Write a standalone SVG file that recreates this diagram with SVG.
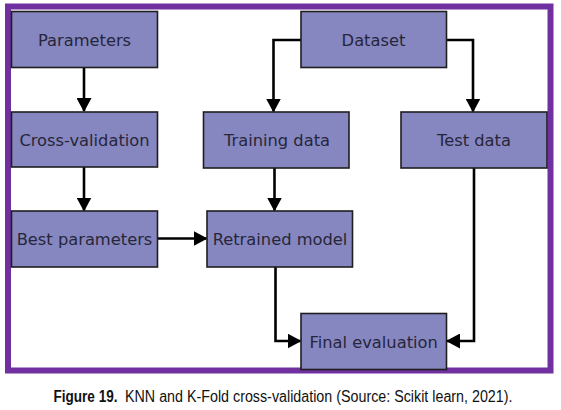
<svg xmlns="http://www.w3.org/2000/svg" width="561" height="410" viewBox="0 0 561 410">
<style>
.node rect{fill:#8686c0;stroke:#1e1e1e;stroke-width:1.6}
.node text{font-family:"DejaVu Sans",sans-serif;font-size:16.3px;fill:#26263a;text-anchor:middle}
.conn path{fill:none;stroke:#000;stroke-width:2.6;marker-end:url(#ah)}
.cap{font-family:"Liberation Sans",Arial,sans-serif;font-size:16px;fill:#111}
</style>
<defs>
<marker id="ah" viewBox="0 0 14 15" refX="13" refY="7.5" markerWidth="14" markerHeight="15" markerUnits="userSpaceOnUse" orient="auto">
<path d="M0,0 L14,7.5 L0,15 z" fill="#000"/>
</marker>
</defs>
<rect x="8" y="6.5" width="542.5" height="364" fill="#fff" stroke="#7030a0" stroke-width="6"/>
<g class="conn">
<path d="M84,67.5 V111"/>
<path d="M84,167 V210.5"/>
<path d="M301,40 H273.5 V111.5"/>
<path d="M446.5,40 H473 V111.5"/>
<path d="M274.5,168 V210.5"/>
<path d="M157.5,238.5 H206.5"/>
<path d="M275.5,267 V341 H300.5"/>
<path d="M474,168 V341 H447"/>
</g>
<g id="parameters" class="node"><rect x="11.5" y="11.5" width="146" height="56"/><text x="84.5" y="45.5">Parameters</text></g>
<g id="dataset" class="node"><rect x="301" y="11.5" width="145.5" height="56"/><text x="373.5" y="45.5">Dataset</text></g>
<g id="cross-validation" class="node"><rect x="11.5" y="112" width="146" height="55"/><text x="84.5" y="145.5">Cross-validation</text></g>
<g id="training-data" class="node"><rect x="203.5" y="112" width="145.5" height="56"/><text x="277" y="146">Training data</text></g>
<g id="test-data" class="node"><rect x="401" y="112" width="146" height="56"/><text x="474" y="146">Test data</text></g>
<g id="best-parameters" class="node"><rect x="11.5" y="211" width="146" height="56"/><text x="84.5" y="245">Best parameters</text></g>
<g id="retrained-model" class="node"><rect x="207" y="211" width="145.5" height="56"/><text x="280" y="245">Retrained model</text></g>
<g id="final-evaluation" class="node"><rect x="301" y="313.5" width="145.5" height="56"/><text x="373.7" y="347.5">Final evaluation</text></g>
<text class="cap" x="53.5" y="401.5" font-weight="bold" textLength="64" lengthAdjust="spacingAndGlyphs">Figure 19.</text>
<text class="cap" x="125" y="401.5" textLength="387.5" lengthAdjust="spacingAndGlyphs">KNN and K-Fold cross-validation (Source: Scikit learn, 2021).</text>
</svg>
